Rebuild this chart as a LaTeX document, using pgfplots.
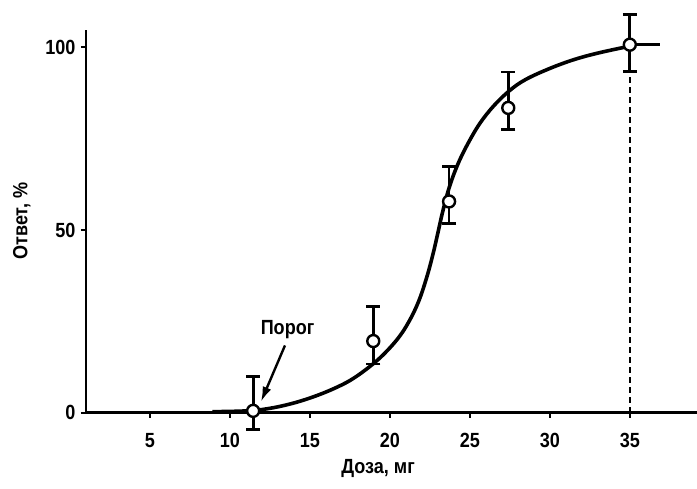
\documentclass[border=0pt]{standalone}
\usepackage{fontspec}
\setmainfont{Liberation Sans}[FakeStretch=0.88]
\usepackage{pgfplots}
\pgfplotsset{compat=1.18}
\usetikzlibrary{arrows.meta}
\newcommand\lbl{\bfseries\fontsize{20.5}{20.5}\selectfont}
\begin{document}
\begin{tikzpicture}
\path[use as bounding box] (-86pt,-76.3pt) rectangle (611pt,412.7pt);
\begin{axis}[
  scale only axis, width=611pt, height=383pt,
  xmin=1, xmax=39.2, ymin=0, ymax=104.8,
  axis lines=left, axis line style={-, line width=2.6pt},
  clip=false,
  xtick={5,10,...,35}, ytick={0,50,100},
  tick align=outside, major tick length=5pt,
  tick style={line width=2pt, black},
  /pgf/number format/assume math mode=true,
  ticklabel style={font=\lbl},
  xticklabel style={yshift=-12pt},
  yticklabel style={xshift=-2pt},
  xlabel={Доза, мг}, ylabel={Ответ, \%},
  label style={font=\lbl},
  xlabel style={at={(axis description cs:0.478,-0.1445)}, anchor=center},
  ylabel style={at={(axis description cs:-0.105,0.5)}, anchor=center},
]
% fitted curve
\addplot[line width=3.6pt, smooth, tension=0.6] coordinates {
  (8.9,0.3) (10,0.35) (11.45,0.6) (12.5,1.2) (13.5,2.1) (14.5,3.3)
  (15.5,4.8) (16.5,6.6) (17.5,8.8) (18.5,11.8) (19.5,15.5) (20.5,20.3)
  (21.2,25) (21.8,30.5) (22.3,37) (22.7,43.5) (23.0,49.2) (23.3,55)
  (23.7,61.5) (24.2,67.5) (24.8,73) (25.6,79) (26.5,84) (27.5,88.2)
  (28.5,91.2) (30,94.2) (31.5,96.6) (33,98.4) (35,100.3)
};
% dashed drop line
\addplot[line width=1.8pt, dash pattern=on 6pt off 4pt] coordinates {(35,0) (35,92)};
% horizontal bar at last point
\addplot[line width=3.2pt] coordinates {(35,100.7) (36.9,100.7)};
% observations with error bars
\addplot[only marks, mark=*, mark size=6pt,
  mark options={fill=white, draw=black, line width=2.4pt},
  error bars/.cd, y dir=both, y explicit,
  error bar style={line width=2.8pt},
  error mark options={rotate=90, line width=2.8pt, mark size=7pt}]
  table[x=x, y=y, y error plus=ep, y error minus=em] {
  x     y     ep   em
  11.45 0.5   9.4  5.2
  18.96 19.6  9.4  6.3
  23.7  57.8  9.6  6.1
  27.4  83.4  9.8  5.9
  35    100.7 8.3  7.3
};
\node[font=\lbl] at (axis cs:13.6,22.7) {Порог};
\draw[line width=2.4pt, -{Latex[length=15pt,width=9pt]}] (axis cs:13.44,18.4) -- (axis cs:11.94,3.0);
\end{axis}
\end{tikzpicture}
\end{document}
